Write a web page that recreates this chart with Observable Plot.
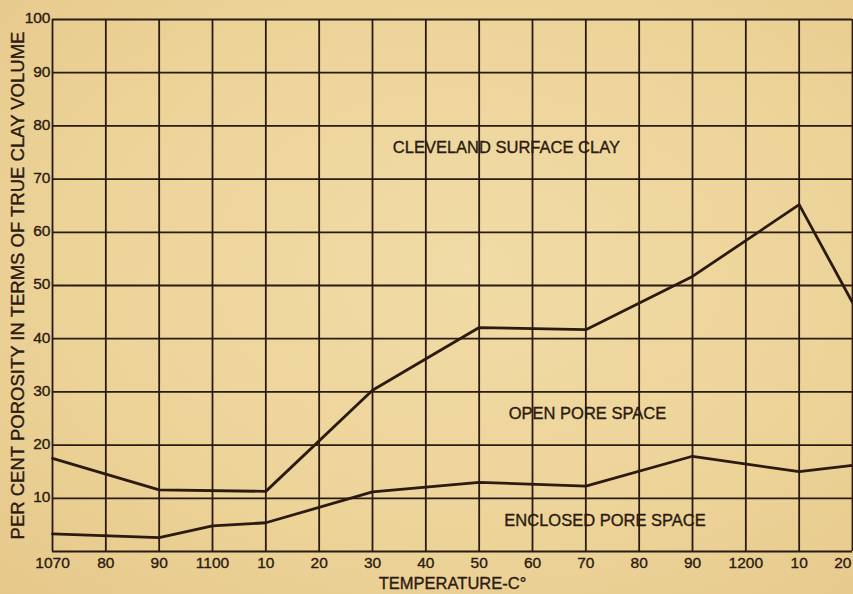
<!DOCTYPE html>
<html><head><meta charset="utf-8">
<script src="https://cdn.jsdelivr.net/npm/d3@7"></script>
<script src="https://cdn.jsdelivr.net/npm/@observablehq/plot@0.6"></script>
<style>
html,body{margin:0;padding:0;background:#ecd398;}
#chart{width:853px;height:594px;overflow:hidden;background:radial-gradient(ellipse at 55% 45%, #f1dba6 0%, #ecd398 60%, #e6c88a 100%);}
svg{font-family:"Liberation Sans","DejaVu Sans",sans-serif;}
svg text{stroke:#2b1a10;stroke-width:0.35px;}
</style></head>
<body><div id="chart"></div>
<script>
const temps = [1070, 1090, 1110, 1130, 1150, 1170, 1190, 1210, 1220];
const totalPorosity = [17.5, 11.6, 11.3, 30.3, 42.1, 41.7, 51.7, 65.2, 46.8];
const enclosedTemps = [1070, 1090, 1100, 1110, 1130, 1150, 1170, 1190, 1210, 1220];
const enclosedPorosity = [3.3, 2.6, 4.8, 5.4, 11.2, 13.0, 12.3, 17.9, 15.0, 16.2];
const xTicks = [1070,1080,1090,1100,1110,1120,1130,1140,1150,1160,1170,1180,1190,1200,1210,1220];
const xTickLabels = ["1070","80","90","1100","10","20","30","40","50","60","70","80","90","1200","10","20"];
const yTicks = [0,10,20,30,40,50,60,70,80,90,100];
const yTickLabels = ["","10","20","30","40","50","60","70","80","90","100"];
const annotations = [
  {x: 1155.1, y: 75.9, text: "CLEVELAND SURFACE CLAY"},
  {x: 1170.3, y: 25.9, text: "OPEN PORE SPACE"},
  {x: 1173.6, y: 5.8, text: "ENCLOSED PORE SPACE"}
];

const ink = "#2b1a10";
const totalData = temps.map((t,i)=>({t, v: totalPorosity[i]}));
const enclosedData = enclosedTemps.map((t,i)=>({t, v: enclosedPorosity[i]}));
const xLab = xTicks.map((t,i)=>({t, s: xTickLabels[i]}));
const yLab = yTicks.map((v,i)=>({v, s: yTickLabels[i]})).filter(d=>d.s);

const plot = Plot.plot({
  width: 853, height: 594,
  marginLeft: 52, marginRight: 1, marginTop: 19, marginBottom: 43,
  style: {background: "transparent", color: ink, overflow: "visible"},
  x: {domain: [1070, 1220], axis: null},
  y: {domain: [0, 100], axis: null},
  marks: [
    Plot.ruleX(xTicks, {x: d=>d, y1: 0, y2: 100, stroke: ink, strokeWidth: 1.8}),
    Plot.ruleY(yTicks, {y: d=>d, x1: 1070, x2: 1220, stroke: ink, strokeWidth: 1.8}),
    Plot.line(totalData, {x: "t", y: "v", stroke: ink, strokeWidth: 2.8, strokeLinejoin: "round"}),
    Plot.line(enclosedData, {x: "t", y: "v", stroke: ink, strokeWidth: 2.8, strokeLinejoin: "round"}),
    Plot.text(yLab, {x: 1070, y: "v", text: "s", textAnchor: "end", dx: -2, dy: -1, fontSize: 15.5, fill: ink}),
    Plot.text(xLab.slice(0, -1), {x: "t", y: 0, text: "s", dy: 12, fontSize: 15.5, fill: ink}),
    Plot.text(xLab.slice(-1), {x: "t", y: 0, text: "s", textAnchor: "end", dx: -1, dy: 12, fontSize: 15.5, fill: ink}),
    Plot.text(annotations, {x: "x", y: "y", text: "text", fontSize: 16.5, fill: ink, style: "letter-spacing:2.4px"}),
    Plot.text(["TEMPERATURE-C°"], {frameAnchor: "bottom", lineAnchor: "middle", dy: 32, fontSize: 16.5, fill: ink, style: "letter-spacing:1px"}),
    Plot.text(["PER CENT POROSITY IN TERMS OF TRUE CLAY VOLUME"], {frameAnchor: "left", textAnchor: "middle", lineAnchor: "middle", dx: -34, rotate: -90, fontSize: 18.5, fill: ink, style: "letter-spacing:0.6px"})
  ]
});
document.getElementById("chart").appendChild(plot);
</script>
</body></html>
